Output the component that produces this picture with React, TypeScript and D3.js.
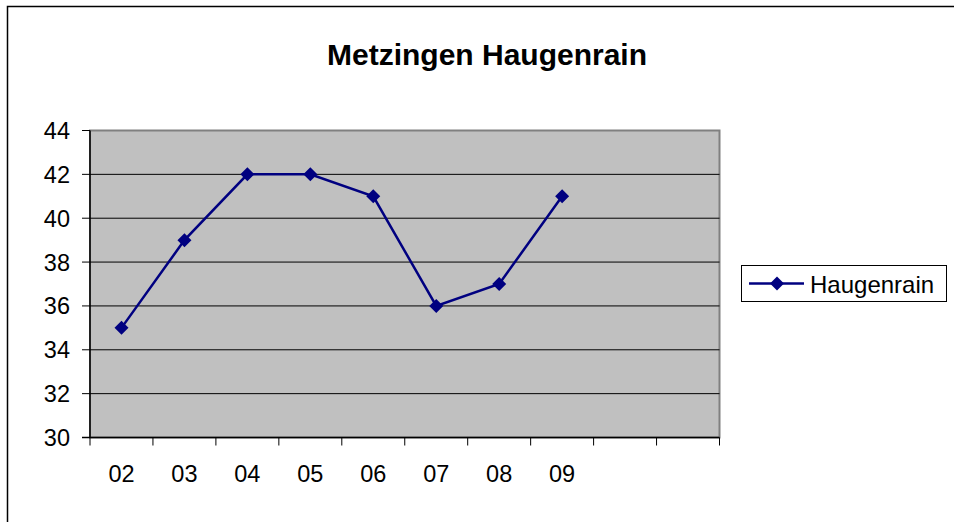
import React from 'react';
import * as d3 from 'd3';

// chart data
const categories = ['02', '03', '04', '05', '06', '07', '08', '09', '', ''];
const haugenrain = [35, 39, 42, 42, 41, 36, 37, 41];
const yTicks = [30, 32, 34, 36, 38, 40, 42, 44];
const seriesName = 'Haugenrain';
const title = 'Metzingen Haugenrain';

const W = 954;
const H = 522;
const plot = { left: 90, top: 130.5, right: 719.5, bottom: 437.5 };
const navy = '#000080';
const font = 'Arial, "Liberation Sans", sans-serif';

const diamond = (x: number, y: number, r = 7) =>
  `M${x},${y - r}L${x + r},${y}L${x},${y + r}L${x - r},${y}Z`;

export default function App() {
  const x = d3
    .scaleBand<number>()
    .domain(d3.range(categories.length))
    .range([plot.left, plot.right]);
  const y = d3.scaleLinear().domain([30, 44]).range([plot.bottom, plot.top]);

  const line = d3
    .line<number>()
    .x((_, i) => x(i)! + x.bandwidth() / 2)
    .y((d) => y(d));

  const tickX = d3.range(categories.length + 1).map((i) => plot.left + i * x.bandwidth());

  return (
    <svg
      width={W}
      height={H}
      style={{ position: 'absolute', left: 0, top: 0, background: '#fff' }}
      fontFamily={font}
    >
      {/* outer chart frame, cut off at right and bottom */}
      <rect x={7.5} y={6.5} width={1100} height={700} fill="none" stroke="#000" strokeWidth={1.5} />

      <text x={487} y={65} textAnchor="middle" fontSize={30} fontWeight="bold">
        {title}
      </text>

      {/* plot area */}
      <rect
        x={plot.left}
        y={plot.top}
        width={plot.right - plot.left}
        height={plot.bottom - plot.top}
        fill="#c0c0c0"
        stroke="#808080"
        strokeWidth={2}
      />
      {yTicks.slice(1, -1).map((t) => (
        <line key={t} x1={plot.left} x2={plot.right} y1={y(t)} y2={y(t)} stroke="#000" strokeWidth={1} />
      ))}

      {/* y axis */}
      <line x1={plot.left} x2={plot.left} y1={plot.top} y2={plot.bottom} stroke="#000" strokeWidth={1.5} />
      {yTicks.map((t) => (
        <g key={t}>
          <line x1={plot.left - 8} x2={plot.left} y1={y(t)} y2={y(t)} stroke="#000" strokeWidth={1} />
          <text x={70} y={y(t) + 8.5} textAnchor="end" fontSize={23.5}>
            {t}
          </text>
        </g>
      ))}

      {/* x axis */}
      <line x1={plot.left - 8} x2={plot.right} y1={plot.bottom} y2={plot.bottom} stroke="#000" strokeWidth={1.5} />
      {tickX.map((tx, i) => (
        <line key={i} x1={tx} x2={tx} y1={plot.bottom} y2={plot.bottom + 8} stroke="#000" strokeWidth={1} />
      ))}
      {categories.map((c, i) => (
        <text key={i} x={x(i)! + x.bandwidth() / 2} y={482} textAnchor="middle" fontSize={23.5}>
          {c}
        </text>
      ))}

      {/* series */}
      <path d={line(haugenrain)!} fill="none" stroke={navy} strokeWidth={2.5} />
      {haugenrain.map((v, i) => (
        <path key={i} d={diamond(x(i)! + x.bandwidth() / 2, y(v))} fill={navy} />
      ))}

      {/* legend */}
      <rect x={741.5} y={265.5} width={205} height={36} fill="#fff" stroke="#000" strokeWidth={1} />
      <line x1={749} x2={804} y1={283.5} y2={283.5} stroke={navy} strokeWidth={2.5} />
      <path d={diamond(777, 283.5)} fill={navy} />
      <text x={810} y={292.5} fontSize={24}>
        {seriesName}
      </text>
    </svg>
  );
}
